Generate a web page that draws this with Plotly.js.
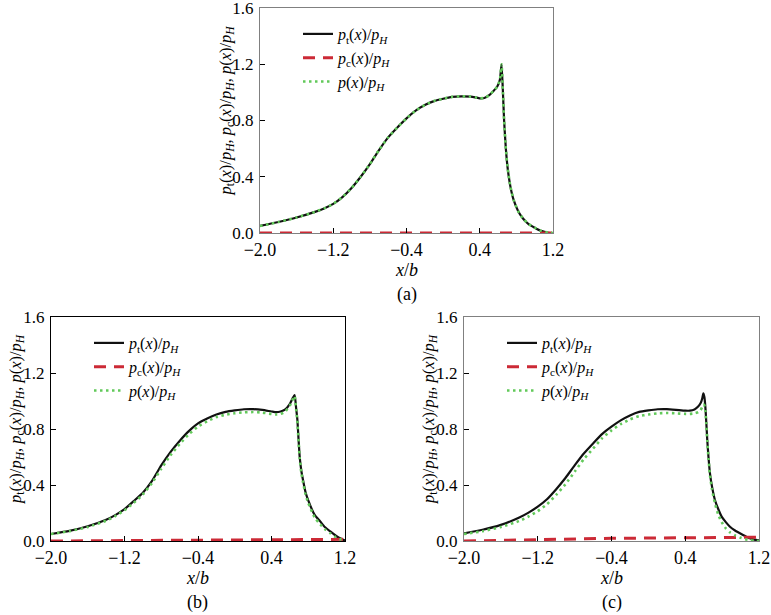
<!DOCTYPE html>
<html><head><meta charset="utf-8">
<script src="https://cdn.plot.ly/plotly-3.0.1.min.js"></script>
<style>html,body{margin:0;padding:0;background:#fff;font-family:'Liberation Serif'}#chart{width:771px;height:615px}
#chart svg text{font-family:'Liberation Serif',serif !important}
#fontwarm{position:absolute;left:0;top:0;opacity:0;font-family:'Liberation Serif';font-size:17px;pointer-events:none}</style>
</head><body><span id="fontwarm">0.4 <i>p x</i></span><div id="chart"></div><script>
// ---- Panel (a) ----
const xA = [-2.0,-1.8,-1.6,-1.4,-1.3,-1.2,-1.1,-1.0,-0.9,-0.8,-0.7,-0.6,-0.5,-0.4,-0.3,-0.2,-0.1,0.0,0.1,0.2,0.3,0.35,0.4,0.45,0.5,0.55,0.59,0.62,0.638,0.652,0.666,0.685,0.705,0.735,0.77,0.82,0.87,0.93,1.0,1.07,1.15,1.2];
const ptA = [0.05,0.078,0.11,0.15,0.175,0.207,0.255,0.32,0.40,0.49,0.59,0.68,0.75,0.815,0.87,0.91,0.938,0.955,0.968,0.972,0.97,0.965,0.958,0.96,0.978,1.01,1.04,1.09,1.20,1.02,0.80,0.60,0.46,0.33,0.235,0.155,0.105,0.065,0.038,0.015,0.002,0.0];
const pA  = [0.05,0.078,0.11,0.15,0.175,0.207,0.255,0.32,0.40,0.49,0.59,0.68,0.75,0.815,0.87,0.91,0.938,0.955,0.968,0.972,0.97,0.965,0.958,0.96,0.978,1.01,1.04,1.09,1.20,1.02,0.80,0.60,0.46,0.33,0.235,0.155,0.105,0.065,0.038,0.015,0.002,0.0];
const xcA = [-2.0,-1.2,-0.4,0.4,1.2];
const pcA = [0.0,0.0,0.0,0.0,0.0];

// ---- Panel (b) ----
const xB = [-2.0,-1.8,-1.6,-1.4,-1.3,-1.2,-1.1,-1.0,-0.9,-0.8,-0.7,-0.6,-0.5,-0.4,-0.3,-0.2,-0.1,0.0,0.1,0.2,0.3,0.4,0.45,0.5,0.55,0.6,0.63,0.652,0.668,0.681,0.695,0.707,0.725,0.743,0.77,0.8,0.87,0.93,0.98,1.04,1.09,1.14,1.2];
const ptB = [0.05,0.072,0.105,0.152,0.185,0.228,0.285,0.345,0.43,0.54,0.635,0.715,0.785,0.84,0.875,0.903,0.922,0.933,0.941,0.942,0.936,0.925,0.92,0.925,0.94,0.98,1.02,1.043,0.95,0.87,0.72,0.60,0.50,0.436,0.35,0.29,0.186,0.14,0.10,0.068,0.043,0.022,0.003];
const pB  = [0.05,0.07,0.10,0.145,0.178,0.22,0.272,0.333,0.415,0.515,0.612,0.692,0.762,0.818,0.855,0.885,0.902,0.912,0.919,0.921,0.917,0.907,0.904,0.908,0.925,0.968,1.01,1.035,0.94,0.86,0.71,0.59,0.485,0.42,0.335,0.272,0.168,0.12,0.085,0.055,0.032,0.014,0.0];
const xcB = [-2.0,-1.6,-1.2,-0.8,-0.4,0.0,0.4,0.8,1.2];
const pcB = [0.0,0.002,0.004,0.006,0.008,0.009,0.010,0.011,0.012];

// ---- Panel (c) ----
const xC = [-2.0,-1.8,-1.6,-1.4,-1.3,-1.2,-1.1,-1.0,-0.9,-0.8,-0.7,-0.6,-0.5,-0.4,-0.3,-0.2,-0.1,0.0,0.1,0.2,0.3,0.4,0.45,0.5,0.54,0.567,0.585,0.596,0.607,0.618,0.628,0.639,0.652,0.668,0.69,0.722,0.76,0.795,0.84,0.885,0.94,0.993,1.05,1.1,1.15,1.2];
const ptC = [0.055,0.08,0.115,0.168,0.203,0.245,0.298,0.37,0.45,0.54,0.625,0.697,0.765,0.817,0.862,0.897,0.922,0.933,0.941,0.942,0.937,0.931,0.931,0.94,0.96,0.985,1.02,1.055,1.03,0.96,0.85,0.72,0.6,0.483,0.39,0.293,0.225,0.174,0.135,0.102,0.075,0.055,0.035,0.019,0.01,0.005];
const pC  = [0.05,0.07,0.1,0.143,0.175,0.213,0.262,0.33,0.405,0.495,0.585,0.66,0.735,0.79,0.835,0.868,0.892,0.903,0.912,0.914,0.912,0.908,0.908,0.912,0.92,0.935,0.96,0.975,0.97,0.93,0.84,0.72,0.59,0.47,0.37,0.27,0.185,0.135,0.09,0.062,0.04,0.025,0.013,0.006,0.002,0.0];
const xcC = [-2.0,-1.6,-1.2,-0.8,-0.4,0.0,0.4,0.8,1.2];
const pcC = [0.0,0.006,0.012,0.016,0.019,0.021,0.023,0.025,0.027];

// ---- Tick labels / texts ----
const xTickVals = [-2.0,-1.2,-0.4,0.4,1.2];
const xTickText = ['\u22122.0','\u22121.2','\u22120.4','0.4','1.2'];
const yTickVals = [0,0.4,0.8,1.2,1.6];
const yTickText = ['0.0','0.4','0.8','1.2','1.6'];
const panelLabels = ['(a)','(b)','(c)'];
const legendNames = [
  '<i>p</i><sub>t</sub>(<i>x</i>)/<i>p</i><sub><i>H</i></sub>',
  '<i>p</i><sub>c</sub>(<i>x</i>)/<i>p</i><sub><i>H</i></sub>',
  '<i>p</i>(<i>x</i>)/<i>p</i><sub><i>H</i></sub>'
];
const yTitle = '<i>p</i><sub>t</sub>(<i>x</i>)/<i>p</i><sub><i>H</i></sub>, <i>p</i><sub>c</sub>(<i>x</i>)/<i>p</i><sub><i>H</i></sub>, <i>p</i>(<i>x</i>)/<i>p</i><sub><i>H</i></sub>';

const W = 771, H = 615;
const FONT = 'Liberation Serif';
// pixel boxes: [left, right, top, bottom]
const boxes = [[260,553,8,233],[51,345,317,541],[464,759,317,541]];
const frameColors = ['#808080','#000000','#808080'];
const data = [
  [xA, ptA, xcA, pcA, pA],
  [xB, ptB, xcB, pcB, pB],
  [xC, ptC, xcC, pcC, pC]
];

const traces = [];
const layout = {
  width: W, height: H,
  margin: {l:0, r:0, t:0, b:0},
  paper_bgcolor: '#fff', plot_bgcolor: '#fff',
  font: {family: FONT, size: 17, color: '#000'},
  showlegend: true,
  annotations: []
};

data.forEach((d, i) => {
  const n = i === 0 ? '' : String(i + 1);
  const xa = 'x' + n, ya = 'y' + n;
  const lg = i === 0 ? 'legend' : 'legend' + (i + 1);
  traces.push({x: d[0], y: d[1], xaxis: xa, yaxis: ya, type: 'scatter', mode: 'lines',
    name: legendNames[0], legend: lg, line: {color: '#111', width: 2.2, shape: 'spline', smoothing: 0.5}});
  traces.push({x: d[2], y: d[3], xaxis: xa, yaxis: ya, type: 'scatter', mode: 'lines',
    name: legendNames[1], legend: lg, line: {color: '#cc2a36', width: 3, dash: '12px,8px'}});
  traces.push({x: d[0], y: d[4], xaxis: xa, yaxis: ya, type: 'scatter', mode: 'lines',
    name: legendNames[2], legend: lg, line: {color: '#62c95a', width: 2.6, dash: '2.5px,3.5px', shape: 'spline', smoothing: 0.5}});

  const [L, R, T, B] = boxes[i];
  layout['xaxis' + n] = {
    showline: true, mirror: true, linecolor: frameColors[i], linewidth: 1.3,
    showgrid: false, zeroline: false,
    ticks: 'inside', ticklen: 5, tickwidth: 1, tickcolor: '#000',
    tickfont: {family: FONT, size: 18, color: '#000'},
    tickmode: 'array', ticklabeloverflow: 'allow',
    domain: [L / W, R / W], anchor: ya, range: [-2.0, 1.2],
    tickvals: xTickVals, ticktext: xTickText
  };
  layout['yaxis' + n] = {
    showline: true, mirror: true, linecolor: frameColors[i], linewidth: 1.3,
    showgrid: false, zeroline: false,
    ticks: 'inside', ticklen: 5, tickwidth: 1, tickcolor: '#000',
    tickfont: {family: FONT, size: 17, color: '#000'},
    tickmode: 'array', ticklabeloverflow: 'allow',
    domain: [1 - B / H, 1 - T / H], anchor: xa, range: [0, 1.6],
    tickvals: yTickVals, ticktext: yTickText, ticklabelstandoff: 2
  };
  layout[lg] = {
    x: (L + 38) / W, y: 1 - (T + 9) / H, xanchor: 'left', yanchor: 'top',
    bgcolor: 'rgba(0,0,0,0)', borderwidth: 0,
    font: {family: FONT, size: 16, color: '#000'},
    tracegroupgap: 0, itemwidth: 30
  };
  const cx = (L + R) / 2 / W;
  layout.annotations.push({text: '<i>x</i>/<i>b</i>', xref: 'paper', yref: 'paper',
    x: cx, y: 1 - (B + 37) / H, xanchor: 'center', yanchor: 'middle', showarrow: false,
    font: {family: FONT, size: 18}});
  layout.annotations.push({text: panelLabels[i], xref: 'paper', yref: 'paper',
    x: cx, y: 1 - (B + 61) / H, xanchor: 'center', yanchor: 'middle', showarrow: false,
    font: {family: FONT, size: 18}});
  layout.annotations.push({text: yTitle, xref: 'paper', yref: 'paper', textangle: -90,
    x: (L - 35) / W, y: 1 - ((T + B) / 2 - 10) / H, xanchor: 'center', yanchor: 'middle',
    showarrow: false, font: {family: FONT, size: 16.5}});
});

function draw() {
  Plotly.newPlot('chart', traces, layout, {displayModeBar: false});
}
if (document.fonts && document.fonts.load) {
  Promise.all([
    document.fonts.load('17px "Liberation Serif"'),
    document.fonts.load('italic 17px "Liberation Serif"')
  ]).then(draw, draw);
} else {
  draw();
}
</script></body></html>
